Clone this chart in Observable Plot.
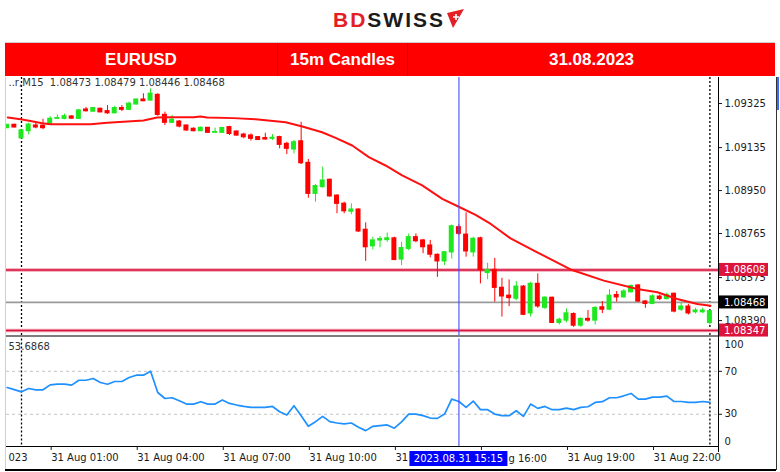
<!DOCTYPE html>
<html><head><meta charset="utf-8">
<script src="https://cdn.jsdelivr.net/npm/d3@7"></script>
<script src="https://cdn.jsdelivr.net/npm/@observablehq/plot@0.6"></script>
<style>
html,body{margin:0;padding:0;background:#fff;}
body{width:780px;height:472px;overflow:hidden;position:relative;font-family:"DejaVu Sans",sans-serif;}
#logo{position:absolute;left:333px;top:9px;font:bold 21px/21px "Liberation Sans",Arial,sans-serif;letter-spacing:2px;white-space:nowrap;}
#logo .bd{color:#e31e24;} #logo .sw{color:#1b1b1b;}
#logoMark{position:absolute;left:444px;top:8px;}
#banner{position:absolute;left:5px;top:42px;width:770px;height:34px;background:#ff0000;border-top:1px solid #cfcfcf;box-sizing:border-box;display:flex;}
#banner div{height:100%;display:flex;align-items:center;justify-content:center;color:#fff;font:bold 17px "Liberation Sans",Arial,sans-serif;box-sizing:border-box;}
#banner .c1{width:273px;border-right:1px solid #c80000;}
#banner .c2{width:130px;border-right:1px solid #c80000;}
#banner .c3{flex:1;}
.ln{position:absolute;}
svg{position:absolute;left:0;}
</style></head>
<body>
<div id="logo"><span class="bd">BD</span><span class="sw">SWISS</span></div>
<svg id="logoMark" width="22" height="22" viewBox="0 0 22 22"><polygon points="3,5 20,1 9,20" fill="#e31e24"/><path d="M12 6v6M9 9h6" stroke="#fff" stroke-width="1.6"/></svg>
<div id="banner"><div class="c1">EURUSD</div><div class="c2">15m Candles</div><div class="c3">31.08.2023</div></div>
<script>
// ---- data ----
const candleStart = -0.5;   // hours relative to 31 Aug 00:00 (first bar 30 Aug 23:30)
const candleStep = 0.25;    // 15-minute bars
const candleOpen  = [1.09219,1.09233,1.09175,1.09206,1.09230,1.09229,1.09238,1.09259,1.09259,1.09269,1.09259,1.09299,1.09290,1.09302,1.09292,1.09283,1.09305,1.09298,1.09321,1.09342,1.09338,1.09362,1.09276,1.09242,1.09247,1.09230,1.09216,1.09206,1.09220,1.09199,1.09199,1.09223,1.09204,1.09191,1.09187,1.09180,1.09176,1.09173,1.09180,1.09151,1.09127,1.09162,1.09069,1.08936,1.08965,1.08996,1.08928,1.08893,1.08859,1.08868,1.08781,1.08710,1.08735,1.08737,1.08744,1.08653,1.08699,1.08749,1.08735,1.08713,1.08673,1.08645,1.08684,1.08792,1.08760,1.08684,1.08744,1.08595,1.08608,1.08531,1.08497,1.08484,1.08536,1.08421,1.08548,1.08445,1.08488,1.08380,1.08390,1.08418,1.08368,1.08397,1.08390,1.08447,1.08437,1.08500,1.08490,1.08512,1.08541,1.08472,1.08462,1.08493,1.08483,1.08505,1.08437,1.08450,1.08426,1.08426,1.08380];
const candleHigh  = [1.09234,1.09236,1.09209,1.09240,1.09242,1.09257,1.09268,1.09276,1.09279,1.09272,1.09299,1.09308,1.09308,1.09305,1.09316,1.09313,1.09316,1.09331,1.09344,1.09367,1.09388,1.09367,1.09288,1.09273,1.09252,1.09232,1.09220,1.09224,1.09222,1.09219,1.09222,1.09227,1.09207,1.09197,1.09194,1.09183,1.09197,1.09191,1.09184,1.09158,1.09166,1.09244,1.09084,1.08976,1.09051,1.09000,1.08931,1.08900,1.08893,1.08871,1.08811,1.08749,1.08752,1.08767,1.08749,1.08727,1.08763,1.08763,1.08739,1.08735,1.08677,1.08687,1.08802,1.08802,1.08854,1.08749,1.08749,1.08637,1.08658,1.08572,1.08565,1.08558,1.08541,1.08555,1.08591,1.08493,1.08491,1.08400,1.08440,1.08423,1.08401,1.08433,1.08450,1.08472,1.08523,1.08515,1.08523,1.08544,1.08544,1.08476,1.08501,1.08500,1.08509,1.08509,1.08469,1.08460,1.08443,1.08443,1.08433];
const candleLow   = [1.09217,1.09220,1.09173,1.09190,1.09216,1.09212,1.09235,1.09259,1.09255,1.09258,1.09256,1.09288,1.09288,1.09285,1.09278,1.09281,1.09290,1.09294,1.09318,1.09333,1.09336,1.09270,1.09230,1.09240,1.09220,1.09206,1.09203,1.09204,1.09197,1.09199,1.09197,1.09187,1.09185,1.09173,1.09163,1.09166,1.09168,1.09166,1.09130,1.09105,1.09108,1.09062,1.08917,1.08900,1.08960,1.08921,1.08850,1.08850,1.08846,1.08770,1.08645,1.08694,1.08703,1.08727,1.08648,1.08627,1.08691,1.08725,1.08678,1.08660,1.08576,1.08627,1.08655,1.08756,1.08663,1.08663,1.08548,1.08566,1.08469,1.08405,1.08450,1.08476,1.08411,1.08405,1.08443,1.08437,1.08378,1.08371,1.08380,1.08361,1.08361,1.08383,1.08371,1.08420,1.08433,1.08469,1.08487,1.08509,1.08469,1.08443,1.08458,1.08476,1.08479,1.08423,1.08429,1.08414,1.08418,1.08420,1.08371];
const candleClose = [1.09233,1.09222,1.09209,1.09234,1.09222,1.09219,1.09259,1.09262,1.09270,1.09260,1.09295,1.09292,1.09305,1.09287,1.09283,1.09305,1.09298,1.09324,1.09342,1.09335,1.09367,1.09276,1.09242,1.09255,1.09226,1.09209,1.09206,1.09220,1.09199,1.09202,1.09219,1.09194,1.09187,1.09180,1.09173,1.09168,1.09170,1.09177,1.09147,1.09130,1.09158,1.09068,1.08936,1.08969,1.08993,1.08925,1.08893,1.08861,1.08868,1.08774,1.08706,1.08735,1.08741,1.08744,1.08651,1.08702,1.08749,1.08732,1.08706,1.08674,1.08645,1.08684,1.08796,1.08764,1.08688,1.08742,1.08608,1.08608,1.08531,1.08494,1.08487,1.08536,1.08415,1.08548,1.08451,1.08488,1.08380,1.08393,1.08421,1.08368,1.08397,1.08390,1.08444,1.08437,1.08497,1.08490,1.08515,1.08538,1.08472,1.08462,1.08494,1.08483,1.08500,1.08429,1.08450,1.08421,1.08433,1.08433,1.08430];
const maTime  = [-0.48,-0.03,0.31,0.72,1.01,2.41,2.99,4.25,4.73,5.08,6.0,6.24,6.47,7.39,8.16,9.21,9.79,10.48,10.95,11.53,12.11,12.69,13.27,13.97,14.67,15.28,15.83,16.36,17.05,17.98,19.14,20.30,21.47,22.17,22.86,23.56,24.02];
const maValue = [1.09265,1.09257,1.09250,1.09240,1.09236,1.09236,1.09242,1.09252,1.09265,1.09266,1.09266,1.09269,1.09265,1.09262,1.09257,1.09244,1.09226,1.09201,1.09177,1.09144,1.09094,1.09058,1.09015,1.08972,1.08914,1.08878,1.08845,1.08806,1.08744,1.08684,1.08610,1.08562,1.08526,1.08512,1.08483,1.08461,1.08454];
const rsiValue = [54.9,53,50.9,54,52.8,52.8,57.4,58,58,57.1,61.7,61.7,63.3,59.6,58,60.5,60.5,64.2,66.4,66.4,70.1,50.3,44.7,45.4,42.6,39.5,39.5,41.7,39.5,39.5,43.2,40.1,38.6,37.3,36.4,36.4,36.4,37.3,32.4,29.3,38,28.7,18.8,23.1,28.1,23.1,21.9,21,21.9,17.9,14.8,18.8,19.4,20.1,17,23,30.2,30.2,28.7,26.5,26.2,30.2,44.1,41.9,36.4,42.3,34.3,34.3,30.2,28.7,28.7,33.3,28.1,39.5,35.5,37.3,34.3,34.3,35.8,34.3,36.4,37,41,41.7,45.4,45.4,47.2,49.4,44.1,44.1,46,46,46.9,41.9,41.9,41,41,41.9,41];
const priceTicks = [1.09325,1.09135,1.08950,1.08765,1.08575,1.08390];
const rsiLevels = [70,30];
const rsiEdgeTicks = [100,0];
const timeTicks = [1,4,7,10,13,16,19,22];
// labels as they remain visible around the blue crosshair date box
const timeTickLabels = ["31 Aug 01:00","31 Aug 04:00","31 Aug 07:00","31 Aug 10:00","31","","31 Aug 19:00","31 Aug 22:00"];
const partialLabel = "g 16:00";
const firstDateLabel = "023";
const sessionBreaks = [0,24];
const crosshairTime = 15.25;
const crosshairLabel = "2023.08.31 15:15";
const resistanceLevels = [1.08608, 1.08347];
const lastPrice = 1.08468;
const headerText = "..r,M15\u00a0\u00a01.08473 1.08479 1.08446 1.08468";
const rsiReadout = "53.6868";

// ---- build ----
const candles = candleOpen.map((o,i)=>({t:candleStart+i*candleStep,o,h:candleHigh[i],l:candleLow[i],c:candleClose[i]}));
const bulls = candles.filter(d=>d.c>=d.o), bears = candles.filter(d=>d.c<d.o);
const ma = maTime.map((t,i)=>({t,v:maValue[i]}));
const rsi = rsiValue.map((v,i)=>({t:candleStart+i*candleStep,v}));
const BULL="#1ee81e", BEAR="#ff0000";
const xDomain=[-0.523,24.30];
const font={fontFamily:"DejaVu Sans",fontSize:"10px",background:"transparent",overflow:"visible"};
const half=0.087;
function candleMarks(arr,col){
  return [
    Plot.ruleX(arr,{x:"t",y1:"l",y2:"h",stroke:col,strokeWidth:1,clip:true}),
    Plot.rect(arr,{x1:d=>d.t-half,x2:d=>d.t+half,y1:d=>Math.min(d.o,d.c),y2:d=>Math.max(d.o,d.c),fill:col,insetTop:-0.6,insetBottom:-0.6,clip:true})
  ];
}
const main = Plot.plot({
  width:780,height:260,marginLeft:6,marginRight:62,marginTop:0,marginBottom:0,
  x:{domain:xDomain,axis:null},
  y:{domain:[1.08317,1.09437]},
  style:font,
  marks:[
    Plot.ruleX(sessionBreaks,{stroke:"#000",strokeWidth:1.3,strokeDasharray:"2,2"}),
    Plot.ruleY(resistanceLevels,{stroke:"#f3a0b2",strokeWidth:3.6}),
    Plot.ruleY(resistanceLevels,{stroke:"#d4143c",strokeWidth:1.6}),
    Plot.ruleY([lastPrice],{stroke:"#9a9a9a",strokeWidth:1.8}),
    ...candleMarks(bulls,BULL),
    ...candleMarks(bears,BEAR),
    Plot.line(ma,{x:"t",y:"v",stroke:"#ff1010",strokeWidth:2}),
    Plot.ruleX([crosshairTime],{stroke:"#4b4bff",strokeWidth:1.4,strokeOpacity:0.8}),
    Plot.axisY({anchor:"right",ticks:priceTicks,tickFormat:d3.format(".5f"),tickSize:3,tickPadding:3,fontSize:10,color:"#1a1a1a",label:null}),
    Plot.text([headerText],{frameAnchor:"top-left",dx:2,dy:1,lineAnchor:"top",fill:"#333",fontSize:10})
  ]
});
main.style.top="77px";
const ys=main.scale("y"), xs=main.scale("x");
const gm=d3.select(main).append("g").attr("text-anchor","start");
const boxX=xs.range[1];
[{v:resistanceLevels[0],bg:"#dc143c"},{v:lastPrice,bg:"#000"},{v:resistanceLevels[1],bg:"#dc143c"}].forEach(l=>{
  const yy=ys.apply(l.v);
  gm.append("rect").attr("x",boxX).attr("y",yy-6.5).attr("width",50).attr("height",13).attr("fill",l.bg);
  gm.append("text").attr("x",boxX+6).attr("y",yy).attr("dy","0.36em").attr("text-anchor","start").attr("fill","#fff")
    .attr("font-family","DejaVu Sans").attr("font-size",10).text(d3.format(".5f")(l.v));
});

const rsiPlot = Plot.plot({
  width:780,height:135,marginLeft:6,marginRight:62,marginTop:1.6,marginBottom:26,
  x:{domain:xDomain},
  y:{domain:[0,100]},
  style:font,
  marks:[
    Plot.ruleY(rsiLevels,{stroke:"#c4c4c4",strokeDasharray:"3,3"}),
    Plot.ruleX(sessionBreaks,{stroke:"#000",strokeWidth:1.3,strokeDasharray:"2,2"}),
    Plot.line(rsi,{x:"t",y:"v",stroke:"#1e90ff",strokeWidth:1.7,clip:true}),
    Plot.ruleX([crosshairTime],{stroke:"#4b4bff",strokeWidth:1.4,strokeOpacity:0.8}),
    Plot.ruleY([0],{stroke:"#000"}),
    Plot.axisY({anchor:"right",ticks:rsiLevels,tickSize:3,tickPadding:3,fontSize:10,color:"#1a1a1a",label:null}),
    Plot.text(rsiEdgeTicks,{y:d=>d,frameAnchor:"right",textAnchor:"start",dx:6,fontSize:10,fill:"#1a1a1a"}),
    Plot.axisX({ticks:timeTicks,tickFormat:d=>timeTickLabels[timeTicks.indexOf(d)],textAnchor:"start",dx:1,tickSize:4,tickPadding:3,fontSize:10,color:"#1a1a1a",label:null}),
    Plot.text([rsiReadout],{frameAnchor:"top-left",dx:2,dy:3.5,lineAnchor:"top",fill:"#333",fontSize:10}),
    Plot.text([firstDateLabel],{frameAnchor:"bottom-left",dx:2,dy:7,lineAnchor:"top",fill:"#1a1a1a",fontSize:10})
  ]
});
rsiPlot.style.top="337px";
// nudge edge labels (100 / 0) inside the panel like the terminal does
d3.select(rsiPlot).selectAll("text").filter(function(){return this.textContent==="100";}).attr("transform",function(){return (d3.select(this).attr("transform")||"")+" translate(0,6)";});
d3.select(rsiPlot).selectAll("text").filter(function(){return this.textContent==="0";}).attr("transform",function(){return (d3.select(this).attr("transform")||"")+" translate(0,-5)";});
const xr=rsiPlot.scale("x");
const cx=xr.apply(crosshairTime);
const gr=d3.select(rsiPlot).append("g");
const boxL=cx-49, boxR=cx+49;
gr.append("rect").attr("x",boxL).attr("y",114).attr("width",boxR-boxL).attr("height",15).attr("fill","#0000ff");
gr.append("text").attr("x",cx).attr("y",121.5).attr("dy","0.36em").attr("text-anchor","middle").attr("fill","#fff")
  .attr("font-family","DejaVu Sans").attr("font-size",10).text(crosshairLabel);
// visible tail of the 16:00 label, just right of the date box
gr.append("text").attr("x",boxR+1).attr("y",121.5).attr("dy","0.36em").attr("text-anchor","start").attr("fill","#1a1a1a")
  .attr("font-family","DejaVu Sans").attr("font-size",10).text(partialLabel);

document.body.appendChild(main);
document.body.appendChild(rsiPlot);
// frame lines
const lines=[
  {l:5,t:77,w:1,h:393,bg:"#cfcfcf"},
  {l:6,t:335,w:712,h:2,bg:"#7d7d7d"},
  {l:718,t:77,w:1,h:375,bg:"#000"},
  {l:776,t:77,w:1,h:393,bg:"#333"},
  {l:777,t:77,w:2,h:33,bg:"#3a6ff0"},
  {l:5,t:469,w:771,h:1.5,bg:"#000"}
];
lines.forEach(s=>{const d=document.createElement("div");d.className="ln";Object.assign(d.style,{left:s.l+"px",top:s.t+"px",width:s.w+"px",height:s.h+"px",background:s.bg});document.body.appendChild(d);});
</script>
</body></html>
